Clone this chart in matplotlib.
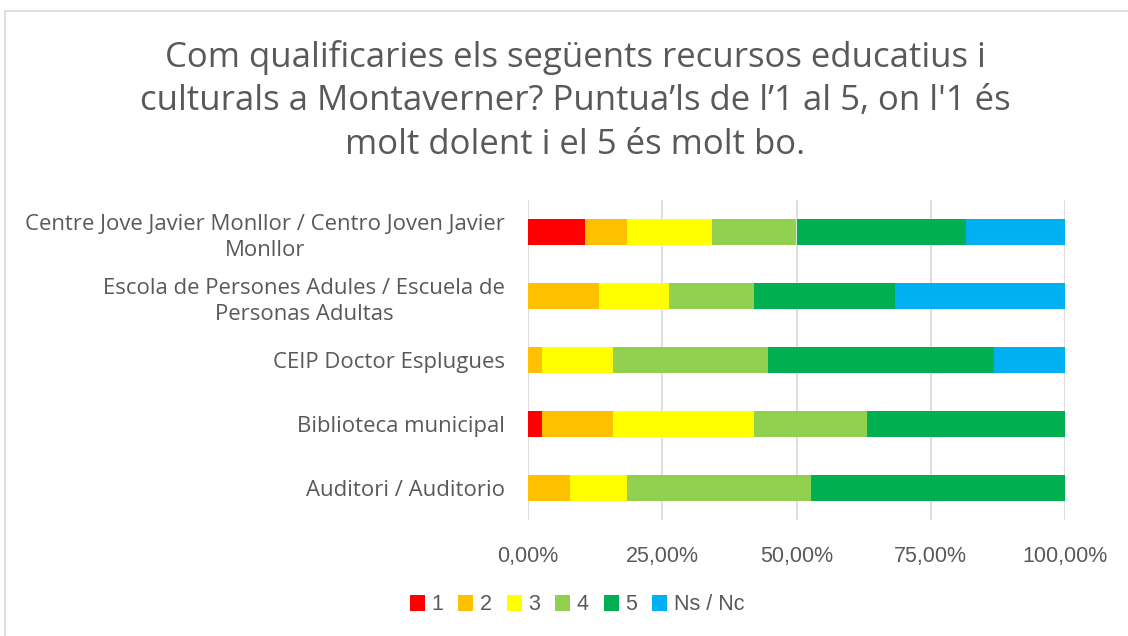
import numpy as np
import matplotlib.pyplot as plt
from matplotlib.patches import Rectangle
from matplotlib.ticker import FuncFormatter

# categories, top to bottom as in the chart
categories = [
    "Centre Jove Javier Monllor / Centro Joven Javier\nMonllor",
    "Escola de Persones Adules / Escuela de\nPersonas Adultas",
    "CEIP Doctor Esplugues",
    "Biblioteca municipal",
    "Auditori / Auditorio",
]
series_names = ["1", "2", "3", "4", "5", "Ns / Nc"]

# percentages per rating
pct_1 = [10.53, 0.00, 0.00, 2.63, 0.00]
pct_2 = [7.89, 13.16, 2.63, 13.16, 7.89]
pct_3 = [15.79, 13.16, 13.16, 26.32, 10.53]
pct_4 = [15.79, 15.79, 28.95, 21.05, 34.21]
pct_5 = [31.58, 26.32, 42.11, 36.84, 47.37]
pct_ns = [18.42, 31.58, 13.16, 0.00, 0.00]

colors = ["#FF0000", "#FFC000", "#FFFF00", "#92D050", "#00B050", "#00B0F0"]
text_color = "#595959"
num_font = ["Liberation Sans", "DejaVu Sans"]

plt.rcParams["font.family"] = ["Open Sans", "DejaVu Sans"]

fig = plt.figure(figsize=(11.28, 6.36), dpi=100)
# chart border (right and bottom edges fall outside the crop)
fig.patches.append(Rectangle((5 / 1128, -0.05), 1.1, 1.05 - 11 / 636,
                             transform=fig.transFigure, fill=False,
                             edgecolor="#D9D9D9", linewidth=1.2))

ax = fig.add_axes([528 / 1128, 1 - 520 / 636, 537 / 1128, 320 / 636])

y = np.arange(len(categories))[::-1]
left = np.zeros(len(categories))
for name, vals, col in zip(series_names, [pct_1, pct_2, pct_3, pct_4, pct_5, pct_ns], colors):
    vals = np.array(vals)
    ax.barh(y, vals, left=left, height=0.4, color=col, label=name, zorder=3)
    left += vals

ax.set_xlim(0, 100)
ax.set_ylim(-0.5, len(categories) - 0.5)
ax.set_xticks([0, 25, 50, 75, 100])
ax.xaxis.set_major_formatter(FuncFormatter(lambda v, p: f"{v:.2f}%".replace(".", ",")))
ax.set_yticks(y)
ax.set_yticklabels(categories)
for lbl in ax.get_yticklabels():
    lbl.set_multialignment("center")
    lbl.set_linespacing(1.36)

ax.grid(axis="x", color="#D9D9D9", linewidth=1.2, zorder=0)
for s in ax.spines.values():
    s.set_visible(False)
ax.tick_params(axis="both", length=0, colors=text_color)
ax.tick_params(axis="y", pad=16.5, labelsize=15.9)
ax.tick_params(axis="x", pad=19, labelsize=15.5)
for lbl in ax.get_xticklabels():
    lbl.set_fontfamily(num_font)

fig.text(575 / 1128, 1 - 101 / 636,
         "Com qualificaries els següents recursos educatius i\n"
         "culturals a Montaverner? Puntua’ls de l’1 al 5, on l'1 és\n"
         "molt dolent i el 5 és molt bo.",
         ha="center", va="center", fontsize=25, color=text_color, linespacing=1.37)

leg = fig.legend(loc="center", bbox_to_anchor=(577 / 1128, 1 - 605 / 636), ncol=6,
                 frameon=False, handlelength=0.7, handleheight=0.7, handletextpad=0.3,
                 columnspacing=0.7, prop={"family": num_font, "size": 15.5})
for t in leg.get_texts():
    t.set_color(text_color)

fig.savefig("out.png", dpi=100)
